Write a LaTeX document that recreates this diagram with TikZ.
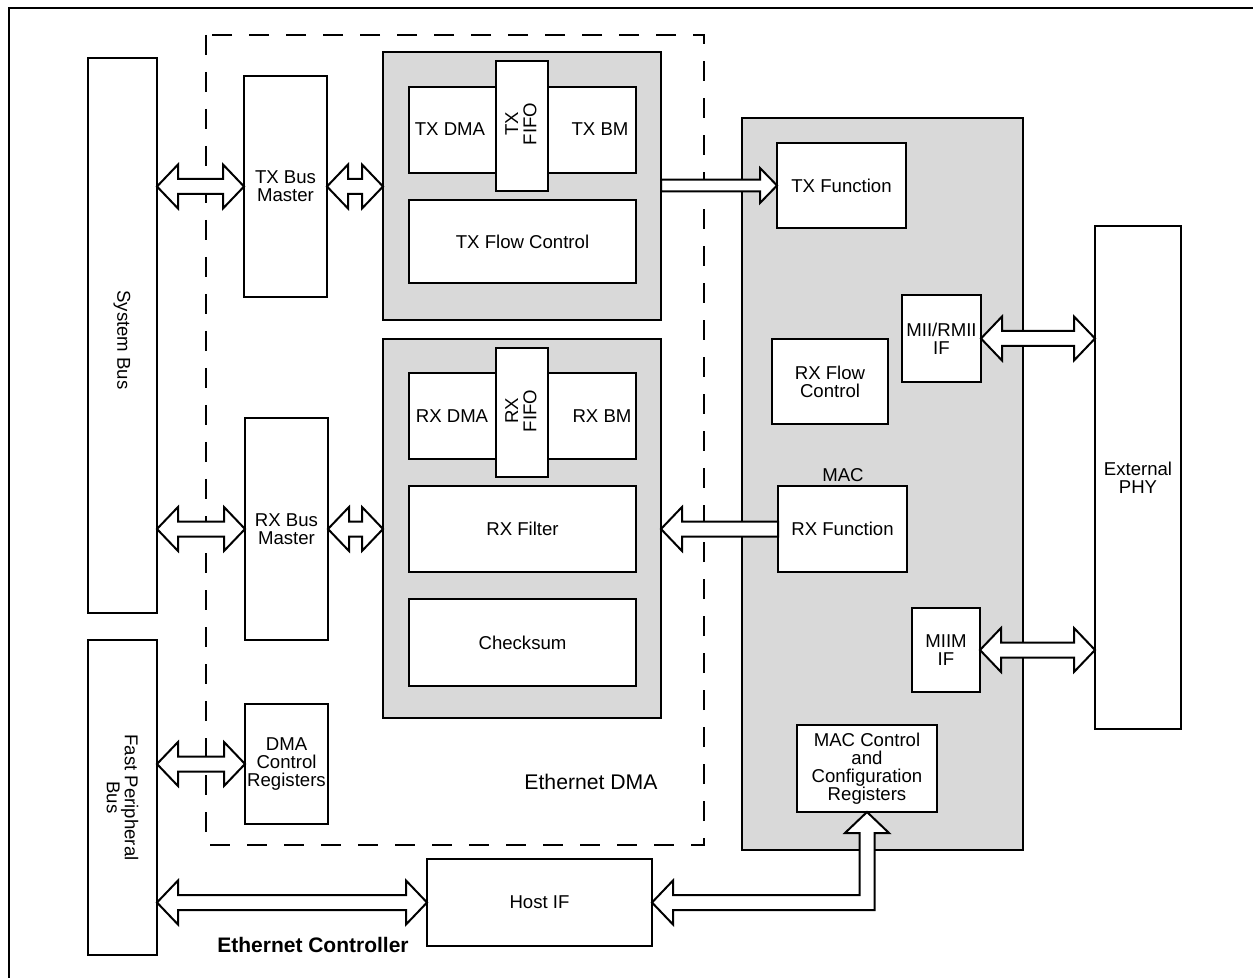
\documentclass[tikz,border=0pt]{standalone}
\usepackage{fontspec}
\setmainfont{Liberation Sans}
\usetikzlibrary{fit,calc}
\definecolor{boxgray}{RGB}{217,217,217}
\def\aW{3.75pt}\def\aH{11pt}\def\aL{10.5pt}
% double-headed horizontal arrow, #1 left point, #2 right point
\newcommand\dblarrow[2]{\draw[hollowarrow] let \p1=#1, \p2=#2 in
  (\x1,\y1) -- (\x1+\aL,\y1+\aH) -- (\x1+\aL,\y1+\aW) -- (\x2-\aL,\y1+\aW) -- (\x2-\aL,\y1+\aH)
  -- (\x2,\y1) -- (\x2-\aL,\y1-\aH) -- (\x2-\aL,\y1-\aW) -- (\x1+\aL,\y1-\aW) -- (\x1+\aL,\y1-\aH) -- cycle;}
% single arrow pointing right: tail #1, tip #2
\newcommand\sarrowR[2]{\draw[hollowarrow] let \p1=#1, \p2=#2 in
  (\x1,\y1+\aW) -- (\x2-\aL,\y1+\aW) -- (\x2-\aL,\y1+\aH) -- (\x2,\y1) -- (\x2-\aL,\y1-\aH)
  -- (\x2-\aL,\y1-\aW) -- (\x1,\y1-\aW) -- cycle;}
% single arrow pointing left: tip #1, tail #2
\newcommand\sarrowL[2]{\draw[hollowarrow] let \p1=#1, \p2=#2 in
  (\x1,\y1) -- (\x1+\aL,\y1+\aH) -- (\x1+\aL,\y1+\aW) -- (\x2,\y1+\aW) -- (\x2,\y1-\aW)
  -- (\x1+\aL,\y1-\aW) -- (\x1+\aL,\y1-\aH) -- cycle;}
% elbow double arrow: #1 left tip (horizontal), #2 upper tip (vertical)
\newcommand\elbowarrow[2]{\draw[hollowarrow] let \p1=#1, \p2=#2 in
  (\x1,\y1) -- (\x1+\aL,\y1+\aH) -- (\x1+\aL,\y1+\aW) -- (\x2-\aW,\y1+\aW) -- (\x2-\aW,\y2-\aL)
  -- (\x2-\aH,\y2-\aL) -- (\x2,\y2) -- (\x2+\aH,\y2-\aL) -- (\x2+\aW,\y2-\aL) -- (\x2+\aW,\y1-\aW)
  -- (\x1+\aL,\y1-\aW) -- (\x1+\aL,\y1-\aH) -- cycle;}
\tikzset{
  txt/.style={font=\fontsize{9.3pt}{9.1pt}\selectfont, align=center, inner sep=0pt},
  box/.style={draw, line width=1pt, fill=white, inner sep=0pt, outer sep=0pt},
  graybox/.style={box, fill=boxgray},
  btext/.style={label={[txt]center:{#1}}},
  hollowarrow/.style={draw, line width=1pt, fill=white, line join=miter},
  dmaframe/.style={draw, line width=1pt, dash pattern=on 10pt off 8.5pt},
}
\begin{document}
\begin{tikzpicture}[x=0.5pt, y=-0.5pt]
\useasboundingbox (0,0) rectangle (1253,978);
% outer frame
\draw[line width=1pt] (9,978) -- (9,8) -- (1253,8);
% Ethernet DMA dashed region
\draw[dmaframe] (206,35) rectangle (704,845);
\node[txt, font=\fontsize{10.6pt}{11pt}\selectfont] (ethdma) at (591,782) {Ethernet DMA};
% buses
\node[box, fit={(88,58)(157,613)}] (sysbus) {};
\node[txt, rotate=-90] at (122,340) {System Bus};
\node[box, fit={(88,640)(157,955)}] (fpb) {};
\node[txt, rotate=-90] at (fpb) {Fast Peripheral\\Bus};
% bus masters
\node[box, fit={(244,76)(327,297)}, btext={TX Bus\\Master}] (txbm) {};
\node[box, fit={(245,418)(328,640)}, btext={RX Bus\\Master}] (rxbm) {};
\node[box, fit={(245,704)(328,824)}, btext={DMA\\Control\\Registers}] (dmaregs) {};
% TX block
\node[graybox, fit={(383,52)(661,320)}] (txgray) {};
\node[box, fit={(409,87)(636,173)}] (txdmabm) {};
\node[txt] (txdma) at (450,129) {TX DMA};
\node[txt] (txbmlbl) at (600,129) {TX BM};
\node[box, fit={(496,61)(548,191)}] (txfifo) {};
\node[txt, rotate=90] at (521,124) {TX\\FIFO};
\node[box, fit={(409,200)(636,283)}, btext={TX Flow Control}] (txflow) {};
% RX block
\node[graybox, fit={(383,339)(661,718)}] (rxgray) {};
\node[box, fit={(409,373)(636,459)}] (rxdmabm) {};
\node[txt] (rxdma) at (452,416) {RX DMA};
\node[txt] (rxbmlbl) at (602,416) {RX BM};
\node[box, fit={(496,348)(548,477)}] (rxfifo) {};
\node[txt, rotate=90] at (521,411) {RX\\FIFO};
\node[box, fit={(409,486)(636,572)}, btext={RX Filter}] (rxfilter) {};
\node[box, fit={(409,599)(636,686)}, btext={Checksum}] (checksum) {};
% MAC
\node[graybox, fit={(742,118)(1023,850)}] (macgray) {};
\node[box, fit={(777,143)(906,228)}, btext={TX Function}] (txfun) {};
\node[box, fit={(772,339)(888,424)}, btext={RX Flow\\Control}] (rxflow) {};
\node[box, fit={(902,295)(981,382)}, btext={MII/RMII\\IF}] (mii) {};
\node[txt] (maclbl) at (843,475) {MAC};
\node[box, fit={(778,486)(907,572)}, btext={RX Function}] (rxfun) {};
\node[box, fit={(912,608)(980,692)}, btext={MIIM\\IF}] (miim) {};
\node[box, fit={(797,725)(937,812)}, btext={MAC Control\\and\\Configuration\\Registers}] (maccfg) {};
% external PHY
\node[box, fit={(1095,226)(1181,729)}, btext={External\\PHY}] (phy) {};
% Host IF
\node[box, fit={(427,859)(652,946)}, btext={Host IF}] (hostif) {};
\node[txt, font=\bfseries\fontsize{10.5pt}{11pt}\selectfont] (ethctl) at (313,945) {Ethernet Controller};
% arrows
\dblarrow{(sysbus.east |- txbm.west)}{(txbm.west)}
\dblarrow{(txbm.east)}{(txgray.west |- txbm.east)}
\dblarrow{(sysbus.east |- rxbm.west)}{(rxbm.west)}
\dblarrow{(rxbm.east)}{(rxgray.west |- rxbm.east)}
\dblarrow{(fpb.east |- dmaregs.west)}{(dmaregs.west)}
\dblarrow{(fpb.east |- hostif.west)}{(hostif.west)}
{\def\aW{2.9pt}\def\aH{8.75pt}\def\aL{8.5pt}%
 \sarrowR{(txgray.east |- txfun.west)}{(txfun.west)}}
\sarrowL{(rxgray.east |- rxfun.west)}{(rxfun.west)}
\dblarrow{(mii.east)}{(phy.west |- mii.east)}
\dblarrow{(miim.east)}{(phy.west |- miim.east)}
\elbowarrow{(hostif.east)}{(maccfg.south)}
\end{tikzpicture}
\end{document}
